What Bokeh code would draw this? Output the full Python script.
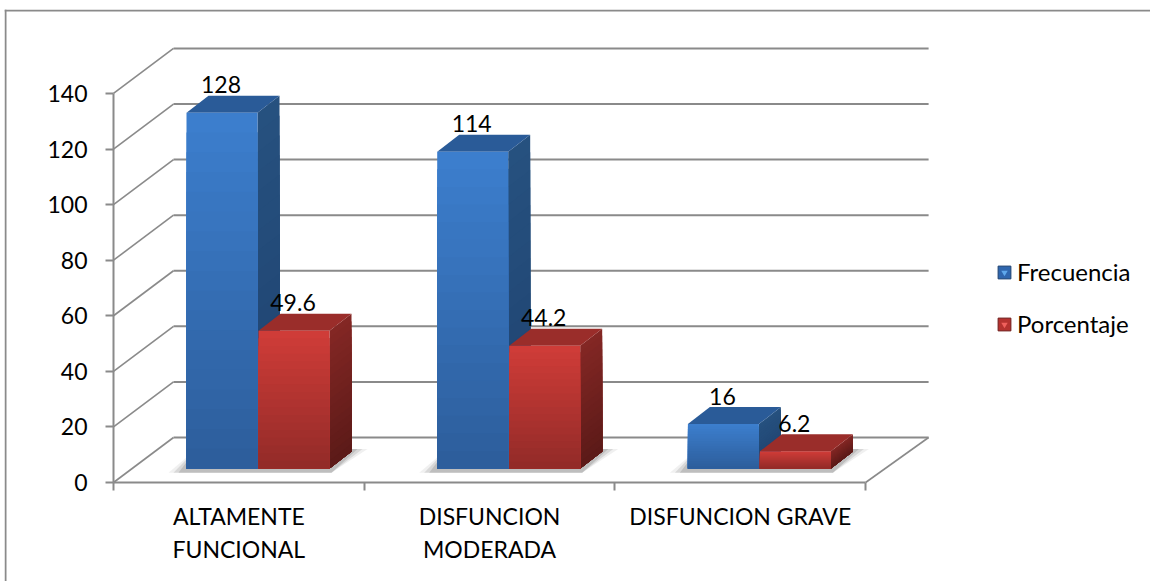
from bokeh.plotting import figure
from bokeh.embed import file_html
from bokeh.resources import INLINE
from bokeh.models import (FixedTicker, Legend, LegendItem, BoxAnnotation, Range1d, LinearAxis)
from bokeh.core.properties import value

categories = ["ALTAMENTE\nFUNCIONAL", "DISFUNCION\nMODERADA", "DISFUNCION GRAVE"]
frecuencia = [128, 114, 16]
porcentaje = [49.6, 44.2, 6.2]
y_ticks = [0, 20, 40, 60, 80, 100, 120, 140]
x_edges = [0, 1, 2, 3]

FONT = "Lato"
FS = "23px"
GRID = "#8a8a8a"
W, H = 1150, 581
PX = 250.7          # px per category
PY = 2.779          # px per value unit
L, B = 113, 482     # pixel position of the axes' origin
FL, FT = 4, 9       # frame's left and top edge

# layout, in data units
wall_x, wall_y = 60 / PX, 45 / PY
wall_right = 63 / PX
bar_base = 14 / PY
depth_x, depth_y = 22 / PX, 17 / PY
bar_w = 71 / PX
bar_l = [73 / PX, 145 / PX]

p = figure(width=W, height=H, output_backend="svg", toolbar_location=None,
           x_range=Range1d(-(L - FL) / PX, (W - L) / PX), y_range=Range1d(-(H - B) / PY, (B - FT) / PY),
           x_axis_type=None, y_axis_type=None,
           min_border_left=FL, min_border_right=0, min_border_top=FT, min_border_bottom=0,
           outline_line_color=None, background_fill_color="white", border_fill_color="white")
p.grid.visible = False

# axes
yax = LinearAxis(ticker=FixedTicker(ticks=y_ticks), bounds=(0, 140), fixed_location=0)
yax.axis_line_color = GRID; yax.axis_line_width = 2
yax.major_tick_line_color = GRID; yax.major_tick_line_width = 2
yax.major_tick_out = 8; yax.major_tick_in = 0; yax.minor_tick_out = 0; yax.minor_tick_in = 0
yax.major_label_standoff = 18
yax.major_label_text_font = FONT; yax.major_label_text_font_size = FS; yax.major_label_text_color = "black"
p.add_layout(yax, "left")

xax = LinearAxis(ticker=FixedTicker(ticks=[i + 0.5 for i in range(len(categories))], minor_ticks=x_edges),
                 bounds=(0, 3), fixed_location=0)
xax.axis_line_color = GRID; xax.axis_line_width = 2
xax.major_tick_out = 0; xax.major_tick_in = 0
xax.minor_tick_line_color = GRID; xax.minor_tick_line_width = 2; xax.minor_tick_out = 8; xax.minor_tick_in = 0
xax.major_label_overrides = {i + 0.5: c for i, c in enumerate(categories)}
xax.major_label_standoff = 11
xax.major_label_text_font = FONT; xax.major_label_text_font_size = FS; xax.major_label_text_color = "black"
xax.major_label_text_line_height = 1.2
p.add_layout(xax, "below")

# walls and floor
p.segment(x0=[wall_x] * len(y_ticks), x1=[3 + wall_right] * len(y_ticks),
          y0=[t + wall_y for t in y_ticks], y1=[t + wall_y for t in y_ticks],
          line_color=GRID, line_width=2)
p.segment(x0=[0] * len(y_ticks), x1=[wall_x] * len(y_ticks),
          y0=y_ticks, y1=[t + wall_y for t in y_ticks], line_color=GRID, line_width=1.6)
p.segment(x0=[3], x1=[3 + wall_right], y0=[0], y1=[wall_y], line_color=GRID, line_width=1.6)


def mix(a, b, f):
    ca = [int(a[i:i + 2], 16) for i in (1, 3, 5)]
    cb = [int(b[i:i + 2], 16) for i in (1, 3, 5)]
    return "#%02x%02x%02x" % tuple(round(x + (y - x) * f) for x, y in zip(ca, cb))


def draw_bar(x0, v, front, side, top):
    x1 = x0 + bar_w
    n = 18
    ft, fb = front
    st, sb = side
    # side face: nested strips, top colour first
    xs, ys, cs = [], [], []
    for i in range(n):
        h = bar_base + v * (1 - i / n)
        xs.append([x1, x1 + depth_x, x1 + depth_x, x1])
        ys.append([bar_base, bar_base + depth_y, h + depth_y, h])
        cs.append(mix(st, sb, i / (n - 1)))
    p.patches(xs, ys, fill_color=cs, line_color=None)
    # top face
    t = bar_base + v
    p.patch([x0, x1, x1 + depth_x, x0 + depth_x], [t, t, t + depth_y, t + depth_y], fill_color=top, line_color=None)
    # front face
    p.quad(left=[x0] * n, right=[x1] * n, bottom=[bar_base] * n,
           top=[bar_base + v * (1 - i / n) for i in range(n)],
           fill_color=[mix(ft, fb, i / (n - 1)) for i in range(n)], line_color=None)


# soft floor shadows
for g in range(len(categories)):
    lft = g + bar_l[0]
    rgt = g + bar_l[1] + bar_w
    for k, a in ((0, 0.10), (5, 0.18), (10, 0.25)):
        ki = k / PX
        p.patch([lft - 18 / PX + ki, rgt + 2 / PX, rgt + (38 - k) / PX, lft + 10 / PX],
                [bar_base - 1.5, bar_base - 1.5, bar_base + 7, bar_base + 7],
                fill_color="#707070", fill_alpha=a, line_color=None)

BLUE = (("#3c7ecd", "#2d5e9c"), ("#26517f", "#1f4270"), "#2a5b98")
RED = (("#cf3c38", "#932b28"), ("#832724", "#5c1a18"), "#9a2d2a")
for g, (f, pc) in enumerate(zip(frecuencia, porcentaje)):
    draw_bar(g + bar_l[0], f, *BLUE)
    draw_bar(g + bar_l[1], pc, *RED)

# value labels
lx, ly, lt = [], [], []
for g, (f, pc) in enumerate(zip(frecuencia, porcentaje)):
    lx += [g + bar_l[0] + bar_w / 2, g + bar_l[1] + bar_w / 2]
    ly += [bar_base + f, bar_base + pc]
    lt += [str(f), str(pc)]
p.text(x=lx, y=ly, text=lt, x_offset=-1, y_offset=-28, text_align="center", text_baseline="middle",
       text_font=value(FONT), text_font_size=FS, text_color="black")

# legend: a key box with a lighter wedge, kept off the frame so only the key shows it
off_x, off_y = [-50], [-50]
rf = p.quad(left=off_x, right=off_x, top=off_y, bottom=off_y, fill_color="#2f66ae", line_color="#1f4270")
rp = p.quad(left=off_x, right=off_x, top=off_y, bottom=off_y, fill_color="#b5322f", line_color="#6e1f1d")
tf = p.scatter(off_x, off_y, marker="inverted_triangle", fill_color="#5fa8ec", line_color=None)
tp = p.scatter(off_x, off_y, marker="inverted_triangle", fill_color="#f0605c", line_color=None)
legend = Legend(items=[LegendItem(label="Frecuencia", renderers=[rf, tf]), LegendItem(label="Porcentaje", renderers=[rp, tp])],
                location=(992, 243), orientation="vertical", background_fill_alpha=0, border_line_color=None,
                glyph_width=16, glyph_height=16, label_standoff=5, spacing=23, padding=0, margin=0,
                label_text_font=FONT, label_text_font_size="24px", label_text_color="black", label_height=24)
p.add_layout(legend, "center")

# chart border: top and left only
p.add_layout(BoxAnnotation(left=4, right=6, top=9, bottom=581, left_units="canvas", right_units="canvas",
                           top_units="canvas", bottom_units="canvas", fill_color="#8a8a8a", fill_alpha=1, line_color=None))
p.add_layout(BoxAnnotation(left=4, right=1150, top=9, bottom=11, left_units="canvas", right_units="canvas",
                           top_units="canvas", bottom_units="canvas", fill_color="#8a8a8a", fill_alpha=1, line_color=None))

open("out.html", "w").write(file_html(p, INLINE))
